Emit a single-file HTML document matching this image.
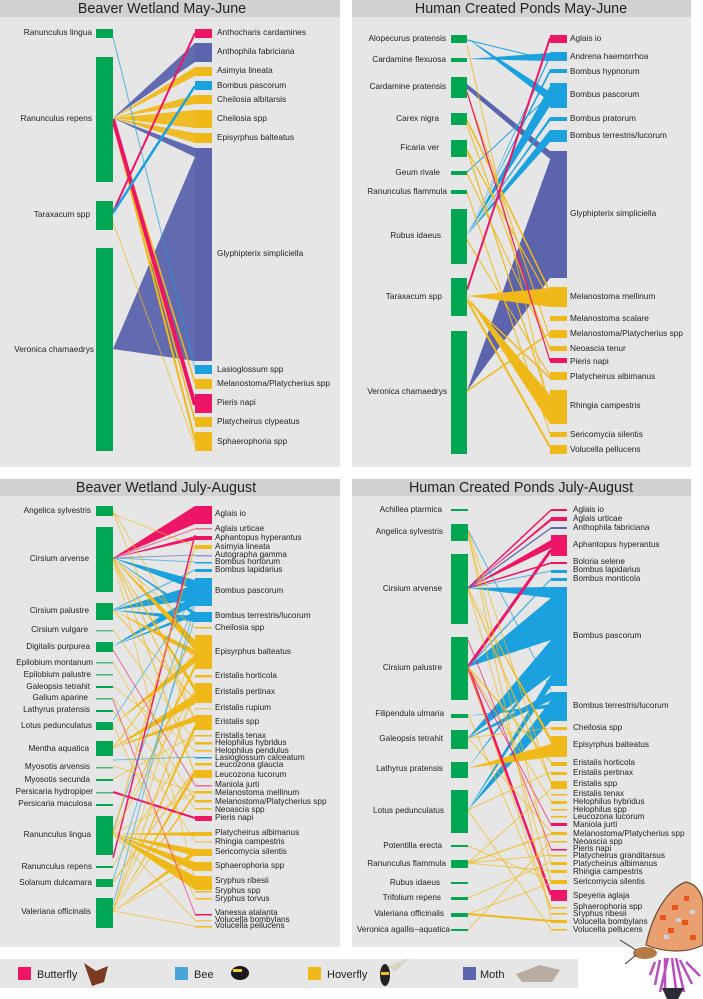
<!DOCTYPE html>
<html><head><meta charset="utf-8"><style>
html,body{margin:0;padding:0;background:#fff;}
svg{display:block;font-family:"Liberation Sans",Arial,sans-serif;}
.t{font-size:14.3px;fill:#222;text-anchor:middle;}
.p{font-size:8.3px;fill:#222;text-anchor:end;}
.i{font-size:8.3px;fill:#222;}
.s{font-size:8.2px;}
.g{fill:#00a651;}
.bf{fill:#ed1566;}.be{fill:#1ba1dd;}.hv{fill:#f0b91a;}.mo{fill:#5b64ad;}
.lb{stroke:#ed1566;}.le{stroke:#1ba1dd;}.lh{stroke:#f0b91a;}.lm{stroke:#5b64ad;}
</style></head><body>
<svg width="703" height="999" viewBox="0 0 703 999" xmlns="http://www.w3.org/2000/svg">
<rect x="0" y="0" width="340" height="467" fill="#e6e6e6"/>
<rect x="0" y="0" width="340" height="17" fill="#d1d1d3"/>
<rect x="352" y="0" width="339" height="467" fill="#e6e6e6"/>
<rect x="352" y="0" width="339" height="17" fill="#d1d1d3"/>
<rect x="0" y="479" width="340" height="468" fill="#e6e6e6"/>
<rect x="0" y="479" width="340" height="17" fill="#d1d1d3"/>
<rect x="352" y="479" width="339" height="468" fill="#e6e6e6"/>
<rect x="352" y="479" width="339" height="17" fill="#d1d1d3"/>
<text class="t" x="162" y="13">Beaver Wetland May-June</text>
<text class="t" x="521" y="13">Human Created Ponds May-June</text>
<text class="t" x="166" y="492">Beaver Wetland July-August</text>
<text class="t" x="521" y="492">Human Created Ponds July-August</text>

<g fill-opacity="0.95">
<polygon class="mo" points="113,118 195,43 195,62"/>
<polygon class="mo" points="113,118 195,148 195,157"/>
<polygon class="mo" points="113,349 195,157 195,361"/>
<polygon class="hv" points="113,118 195,67 195,76"/>
<polygon class="hv" points="113,118 195,95 195,104"/>
<polygon class="hv" points="113,118 195,110 195,128"/>
<polygon class="hv" points="113,118 195,133 195,143"/>
</g>
<g fill="none">
<line class="lh" x1="113" y1="120" x2="195" y2="383" stroke-width="1.5"/>
<line class="lh" x1="113" y1="120" x2="195" y2="421" stroke-width="1.5"/>
<line class="lh" x1="113" y1="121" x2="195" y2="440" stroke-width="2"/>
<line class="lh" x1="113" y1="222" x2="195" y2="446" stroke-width="1" stroke-opacity="0.7"/>
<line class="lb" x1="113" y1="119" x2="195" y2="405" stroke-width="4"/>
<line class="lb" x1="113" y1="212" x2="195" y2="33" stroke-width="2"/>
<line class="le" x1="113" y1="213" x2="195" y2="86" stroke-width="2.5"/>
<line class="le" x1="113" y1="37" x2="195" y2="369" stroke-width="1" stroke-opacity="0.7"/>
</g>
<rect class="g" x="96" y="29" width="17" height="9"/>
<rect class="g" x="96" y="57" width="17" height="125"/>
<rect class="g" x="96" y="201" width="17" height="29"/>
<rect class="g" x="96" y="248" width="17" height="203"/>
<rect class="bf" x="195" y="29" width="17" height="9"/>
<rect class="mo" x="195" y="43" width="17" height="19"/>
<rect class="hv" x="195" y="67" width="17" height="9"/>
<rect class="be" x="195" y="81" width="17" height="9"/>
<rect class="hv" x="195" y="95" width="17" height="9"/>
<rect class="hv" x="195" y="110" width="17" height="18"/>
<rect class="hv" x="195" y="133" width="17" height="10"/>
<rect class="mo" x="195" y="148" width="17" height="213"/>
<rect class="be" x="195" y="365" width="17" height="9"/>
<rect class="hv" x="195" y="379" width="17" height="10"/>
<rect class="bf" x="195" y="394" width="17" height="19"/>
<rect class="hv" x="195" y="417" width="17" height="10"/>
<rect class="hv" x="195" y="432" width="17" height="19"/>
<g class="p">
<text x="92" y="35">Ranunculus lingua</text>
<text x="92" y="121">Ranunculus repens</text>
<text x="90" y="217">Taraxacum spp</text>
<text x="94" y="352">Veronica chamaedrys</text>
</g>
<g class="i">
<text x="217" y="35">Anthocharis cardamines</text>
<text x="217" y="54">Anthophila fabriciana</text>
<text x="217" y="73">Asimyia lineata</text>
<text x="217" y="88">Bombus pascorum</text>
<text x="217" y="102">Cheilosia albitarsis</text>
<text x="217" y="121">Cheilosia spp</text>
<text x="217" y="140">Episyrphus balteatus</text>
<text x="217" y="256">Glyphipterix simpliciella</text>
<text x="217" y="372">Lasioglossum spp</text>
<text x="217" y="386">Melanostoma/Platycherius spp</text>
<text x="217" y="405">Pieris napi</text>
<text x="217" y="424">Platycheirus clypeatus</text>
<text x="217" y="444">Sphaerophoria spp</text>
</g>

<g>
<polygon class="mo" points="467,391 550,160 550,278"/>
<polygon class="mo" points="467,84 467,89 550,159 550,151"/>
<polygon class="be" points="467,38 550,92 550,102"/>
<polygon class="be" points="467,59 550,53 550,61"/>
<polygon class="be" points="467,235 550,55 550,58"/>
<polygon class="be" points="467,235 550,69 550,73"/>
<polygon class="be" points="467,235 550,86 550,106"/>
<polygon class="be" points="467,235 550,117 550,121"/>
<polygon class="be" points="467,235 550,130 550,142"/>
<polygon class="hv" points="467,296 550,288 550,307"/>
<polygon class="hv" points="467,296 550,395 550,424"/>
</g>
<g fill="none">
<line class="le" x1="467" y1="172" x2="550" y2="95" stroke-width="1"/>
<line class="le" x1="467" y1="40" x2="550" y2="60" stroke-width="1"/>
<line class="lh" x1="467" y1="391" x2="550" y2="333" stroke-width="1.5"/>
<line class="lh" x1="467" y1="120" x2="550" y2="292" stroke-width="1.5"/>
<line class="lh" x1="467" y1="150" x2="550" y2="300" stroke-width="1.2"/>
<line class="lh" x1="467" y1="150" x2="550" y2="405" stroke-width="1.2"/>
<line class="lh" x1="467" y1="92" x2="550" y2="338" stroke-width="1"/>
<line class="lh" x1="467" y1="173" x2="550" y2="348" stroke-width="1"/>
<line class="lh" x1="467" y1="45" x2="550" y2="412" stroke-width="0.8"/>
<line class="lh" x1="467" y1="240" x2="550" y2="376" stroke-width="1"/>
<line class="lh" x1="467" y1="300" x2="550" y2="378" stroke-width="1.5"/>
<line class="lh" x1="467" y1="300" x2="550" y2="447" stroke-width="2"/>
<line class="lh" x1="467" y1="192" x2="550" y2="434" stroke-width="1"/>
<line class="lh" x1="467" y1="125" x2="550" y2="350" stroke-width="1"/>
<line class="lb" x1="467" y1="290" x2="550" y2="38" stroke-width="2"/>
<line class="lb" x1="467" y1="92" x2="550" y2="361" stroke-width="1.2"/>
</g>
<rect class="g" x="451" y="35" width="16" height="8"/>
<rect class="g" x="451" y="58" width="16" height="4"/>
<rect class="g" x="451" y="77" width="16" height="21"/>
<rect class="g" x="451" y="113" width="16" height="12"/>
<rect class="g" x="451" y="140" width="16" height="17"/>
<rect class="g" x="451" y="171" width="16" height="4"/>
<rect class="g" x="451" y="190" width="16" height="4"/>
<rect class="g" x="451" y="209" width="16" height="55"/>
<rect class="g" x="451" y="278" width="16" height="38"/>
<rect class="g" x="451" y="331" width="16" height="123"/>
<rect class="bf" x="550" y="35" width="17" height="8"/>
<rect class="be" x="550" y="52" width="17" height="9"/>
<rect class="be" x="550" y="69" width="17" height="4"/>
<rect class="be" x="550" y="83" width="17" height="25"/>
<rect class="be" x="550" y="117" width="17" height="4"/>
<rect class="be" x="550" y="130" width="17" height="12"/>
<rect class="mo" x="550" y="151" width="17" height="127"/>
<rect class="hv" x="550" y="287" width="17" height="20"/>
<rect class="hv" x="550" y="316" width="17" height="5"/>
<rect class="hv" x="550" y="330" width="17" height="8"/>
<rect class="hv" x="550" y="346" width="17" height="5"/>
<rect class="bf" x="550" y="358" width="17" height="5"/>
<rect class="hv" x="550" y="372" width="17" height="8"/>
<rect class="hv" x="550" y="390" width="17" height="34"/>
<rect class="hv" x="550" y="432" width="17" height="5"/>
<rect class="hv" x="550" y="445" width="17" height="9"/>
<g class="p">
<text x="446" y="41">Alopecurus pratensis</text>
<text x="446" y="62">Cardamine flexuosa</text>
<text x="446" y="89">Cardamine pratensis</text>
<text x="439" y="121">Carex nigra</text>
<text x="439" y="150">Ficaria ver</text>
<text x="440" y="175">Geum rivale</text>
<text x="447" y="194">Ranunculus flammula</text>
<text x="441" y="238">Rubus idaeus</text>
<text x="442" y="299">Taraxacum spp</text>
<text x="447" y="394">Veronica chamaedrys</text>
</g>
<g class="i">
<text x="570" y="41">Aglais io</text>
<text x="570" y="59">Andrena haemorrhoa</text>
<text x="570" y="74">Bombus hypnorum</text>
<text x="570" y="97">Bombus pascorum</text>
<text x="570" y="121">Bombus pratorum</text>
<text x="570" y="138">Bombus terrestris/lucorum</text>
<text x="570" y="216">Glyphipterix simpliciella</text>
<text x="570" y="299">Melanostoma mellinum</text>
<text x="570" y="321">Melanostoma scalare</text>
<text x="570" y="336">Melanostoma/Platycherius spp</text>
<text x="570" y="351">Neoascia tenur</text>
<text x="570" y="364">Pieris napi</text>
<text x="570" y="379">Platycheirus albimanus</text>
<text x="570" y="408">Rhingia campestris</text>
<text x="570" y="437">Sericomycia silentis</text>
<text x="570" y="452">Volucella pellucens</text>
</g>

<g>
<polygon class="bf" points="113,558 195,506 195,524"/>
<polygon class="bf" points="113,558 195,536 195,540"/>
<polygon class="be" points="113,558 195,580 195,590"/>
<polygon class="be" points="113,558 195,612 195,616"/>
<polygon class="be" points="113,610 195,585 195,600"/>
<polygon class="be" points="113,610 195,616 195,622"/>
<polygon class="be" points="113,646 195,595 195,605"/>
<polygon class="be" points="113,646 195,612 195,616"/>
<polygon class="hv" points="113,558 195,640 195,650"/>
<polygon class="hv" points="113,558 195,686 195,692"/>
<polygon class="hv" points="113,610 195,650 195,656"/>
<polygon class="hv" points="113,725 195,655 195,663"/>
<polygon class="hv" points="113,748 195,694 195,704"/>
<polygon class="hv" points="113,748 195,716 195,722"/>
<polygon class="hv" points="113,834 195,664 195,669"/>
<polygon class="hv" points="113,834 195,862 195,871"/>
<polygon class="hv" points="113,834 195,876 195,890"/>
<polygon class="hv" points="113,834 195,832 195,836"/>
<polygon class="hv" points="113,834 195,849 195,856"/>
<polygon class="hv" points="113,911 195,724 195,730"/>
<polygon class="hv" points="113,911 195,770 195,776"/>
<polygon class="hv" points="113,911 195,850 195,855"/>
<polygon class="hv" points="113,911 195,793 195,796"/>
</g>
<g fill="none" stroke-width="1" stroke-opacity="0.6">
<line class="lb" x1="113" y1="558" x2="195" y2="529"/>
<line class="lb" x1="113" y1="792" x2="195" y2="818" stroke-width="2" stroke-opacity="1"/>
<line class="lb" x1="113" y1="650" x2="195" y2="785"/>
<line class="lb" x1="113" y1="700" x2="195" y2="914"/>
<line class="lb" x1="113" y1="858" x2="195" y2="535" stroke-width="1.5" stroke-opacity="1"/>
<line class="le" x1="113" y1="558" x2="195" y2="562"/>
<line class="le" x1="113" y1="610" x2="195" y2="570" stroke-width="1.5"/>
<line class="le" x1="113" y1="720" x2="195" y2="595"/>
<line class="le" x1="113" y1="760" x2="195" y2="757"/>
<line class="le" x1="113" y1="830" x2="195" y2="600"/>
<line class="le" x1="113" y1="880" x2="195" y2="618"/>
<line class="le" x1="113" y1="905" x2="195" y2="605"/>
<line class="lh" x1="113" y1="510" x2="195" y2="650"/>
<line class="lh" x1="113" y1="512" x2="195" y2="720"/>
<line class="lh" x1="113" y1="514" x2="195" y2="546"/>
<line class="lh" x1="113" y1="558" x2="195" y2="720" stroke-width="1.5"/>
<line class="lh" x1="113" y1="558" x2="195" y2="774" stroke-width="1.5"/>
<line class="lh" x1="113" y1="558" x2="195" y2="880"/>
<line class="lh" x1="113" y1="558" x2="195" y2="628"/>
<line class="lh" x1="113" y1="610" x2="195" y2="700" stroke-width="1.5"/>
<line class="lh" x1="113" y1="630" x2="195" y2="742"/>
<line class="lh" x1="113" y1="662" x2="195" y2="801"/>
<line class="lh" x1="113" y1="686" x2="195" y2="750"/>
<line class="lh" x1="113" y1="698" x2="195" y2="809"/>
<line class="lh" x1="113" y1="710" x2="195" y2="841"/>
<line class="lh" x1="113" y1="725" x2="195" y2="898"/>
<line class="lh" x1="113" y1="748" x2="195" y2="640" stroke-width="1.5"/>
<line class="lh" x1="113" y1="766" x2="195" y2="792"/>
<line class="lh" x1="113" y1="779" x2="195" y2="735"/>
<line class="lh" x1="113" y1="834" x2="195" y2="546" stroke-width="1.5"/>
<line class="lh" x1="113" y1="834" x2="195" y2="690"/>
<line class="lh" x1="113" y1="834" x2="195" y2="792"/>
<line class="lh" x1="113" y1="834" x2="195" y2="920"/>
<line class="lh" x1="113" y1="866" x2="195" y2="735"/>
<line class="lh" x1="113" y1="882" x2="195" y2="770" stroke-width="1.5"/>
<line class="lh" x1="113" y1="911" x2="195" y2="690" stroke-width="1.5"/>
<line class="lh" x1="113" y1="911" x2="195" y2="865"/>
<line class="lh" x1="113" y1="911" x2="195" y2="926"/>
<line class="lh" x1="113" y1="911" x2="195" y2="640"/>
<line class="lm" x1="113" y1="558" x2="195" y2="555"/>
</g>
<g class="g">
<rect x="96" y="506" width="17" height="10"/>
<rect x="96" y="527" width="17" height="65"/>
<rect x="96" y="603" width="17" height="17"/>
<rect x="96" y="630" width="17" height="1.5" opacity="0.6"/>
<rect x="96" y="642" width="17" height="10"/>
<rect x="96" y="662" width="17" height="1.5" opacity="0.7"/>
<rect x="96" y="674" width="17" height="1.5" opacity="0.7"/>
<rect x="96" y="686" width="17" height="2"/>
<rect x="96" y="698" width="17" height="1.5" opacity="0.7"/>
<rect x="96" y="710" width="17" height="2"/>
<rect x="96" y="722" width="17" height="8"/>
<rect x="96" y="741" width="17" height="15"/>
<rect x="96" y="767" width="17" height="1.5" opacity="0.7"/>
<rect x="96" y="779" width="17" height="2"/>
<rect x="96" y="792" width="17" height="1.5" opacity="0.7"/>
<rect x="96" y="804" width="17" height="2"/>
<rect x="96" y="816" width="17" height="39"/>
<rect x="96" y="866" width="17" height="2"/>
<rect x="96" y="879" width="17" height="8"/>
<rect x="96" y="898" width="17" height="30"/>
</g>
<rect class="bf" x="195" y="506" width="17" height="18"/>
<rect class="bf" x="195" y="528" width="17" height="1.5" opacity="0.6"/>
<rect class="bf" x="195" y="536" width="17" height="4"/>
<rect class="hv" x="195" y="545" width="17" height="4"/>
<rect class="mo" x="195" y="555" width="17" height="1.5" opacity="0.6"/>
<rect class="be" x="195" y="562" width="17" height="1.5"/>
<rect class="be" x="195" y="569" width="17" height="3"/>
<rect class="be" x="195" y="578" width="17" height="28"/>
<rect class="be" x="195" y="612" width="17" height="10"/>
<rect class="hv" x="195" y="627" width="17" height="1.5"/>
<rect class="hv" x="195" y="635" width="17" height="34"/>
<rect class="hv" x="195" y="675" width="17" height="2.5"/>
<rect class="hv" x="195" y="683" width="17" height="20"/>
<rect class="hv" x="195" y="708" width="17" height="1.5" opacity="0.6"/>
<rect class="hv" x="195" y="715" width="17" height="15"/>
<rect class="hv" x="195" y="735" width="17" height="1.5"/>
<rect class="hv" x="195" y="742" width="17" height="2.5"/>
<rect class="hv" x="195" y="750" width="17" height="1.5"/>
<rect class="be" x="195" y="757" width="17" height="1.5"/>
<rect class="hv" x="195" y="763" width="17" height="2.5"/>
<rect class="hv" x="195" y="770" width="17" height="8"/>
<rect class="bf" x="195" y="785" width="17" height="1.5" opacity="0.6"/>
<rect class="hv" x="195" y="791" width="17" height="2.5"/>
<rect class="hv" x="195" y="800" width="17" height="2.5"/>
<rect class="hv" x="195" y="808" width="17" height="1.5"/>
<rect class="bf" x="195" y="816" width="17" height="5"/>
<rect class="hv" x="195" y="832" width="17" height="4"/>
<rect class="hv" x="195" y="841" width="17" height="1.5" opacity="0.6"/>
<rect class="hv" x="195" y="849" width="17" height="7"/>
<rect class="hv" x="195" y="862" width="17" height="9"/>
<rect class="hv" x="195" y="876" width="17" height="14"/>
<rect class="hv" x="195" y="891" width="17" height="1.5"/>
<rect class="hv" x="195" y="898" width="17" height="1.5"/>
<rect class="bf" x="195" y="914" width="17" height="1.5"/>
<rect class="hv" x="195" y="920" width="17" height="1.5" opacity="0.6"/>
<rect class="hv" x="195" y="926" width="17" height="1.5"/>
<g class="p s">
<text x="91" y="513">Angelica sylvestris</text>
<text x="89" y="561">Cirsium arvense</text>
<text x="89" y="613">Cirsium palustre</text>
<text x="88" y="632">Cirsium vulgare</text>
<text x="90" y="649">Digitalis purpurea</text>
<text x="93" y="665">Epilobium montanum</text>
<text x="91" y="677">Epilobium palustre</text>
<text x="90" y="689">Galeopsis tetrahit</text>
<text x="88" y="700">Galium aparine</text>
<text x="90" y="712">Lathyrus pratensis</text>
<text x="92" y="728">Lotus pedunculatus</text>
<text x="89" y="751">Mentha aquatica</text>
<text x="90" y="769">Myosotis arvensis</text>
<text x="90" y="782">Myosotis secunda</text>
<text x="93" y="794">Persicaria hydropiper</text>
<text x="92" y="806">Persicaria maculosa</text>
<text x="91" y="837">Ranunculus lingua</text>
<text x="92" y="869">Ranunculus repens</text>
<text x="92" y="885">Solanum dulcamara</text>
<text x="91" y="914">Valeriana officinalis</text>
</g>
<g class="i s">
<text x="215" y="516">Aglais io</text>
<text x="215" y="531">Aglais urticae</text>
<text x="215" y="540">Aphantopus hyperantus</text>
<text x="215" y="549">Asimyia lineata</text>
<text x="215" y="557">Autographa gamma</text>
<text x="215" y="564">Bombus hortorum</text>
<text x="215" y="572">Bombus lapidarius</text>
<text x="215" y="593">Bombus pascorum</text>
<text x="215" y="618">Bombus terrestris/lucorum</text>
<text x="215" y="630">Cheilosia spp</text>
<text x="215" y="654">Episyrphus balteatus</text>
<text x="215" y="678">Eristalis horticola</text>
<text x="215" y="694">Eristalis pertinax</text>
<text x="215" y="710">Eristalis rupium</text>
<text x="215" y="724">Eristalis spp</text>
<text x="215" y="738">Eristalis tenax</text>
<text x="215" y="745">Helophilus hybridus</text>
<text x="215" y="753">Helophilus pendulus</text>
<text x="215" y="760">Lasioglossum calceatum</text>
<text x="215" y="767">Leucozona glaucia</text>
<text x="215" y="777">Leucozona lucorum</text>
<text x="215" y="787">Maniola jurti</text>
<text x="215" y="795">Melanostoma mellinum</text>
<text x="215" y="804">Melanostoma/Platycherius spp</text>
<text x="215" y="812">Neoascia spp</text>
<text x="215" y="820">Pieris napi</text>
<text x="215" y="835">Platycheirus albimanus</text>
<text x="215" y="844">Rhingia campestris</text>
<text x="215" y="854">Sericomycia silentis</text>
<text x="215" y="868">Sphaerophoria spp</text>
<text x="215" y="883">Sryphus ribesii</text>
<text x="215" y="893">Sryphus spp</text>
<text x="215" y="901">Sryphus torvus</text>
<text x="215" y="915">Vanessa atalanta</text>
<text x="215" y="922">Volucella bombylans</text>
<text x="215" y="928">Volucella pellucens</text>
</g>

<g>
<polygon class="be" points="468,588 551,587 551,598"/>
<polygon class="be" points="468,667 551,598 551,640"/>
<polygon class="be" points="468,738 551,640 551,675"/>
<polygon class="be" points="468,738 551,692 551,700"/>
<polygon class="be" points="468,810 551,675 551,686"/>
<polygon class="be" points="468,810 551,700 551,721"/>
<polygon class="be" points="468,768 551,655 551,662"/>
<polygon class="be" points="468,716 551,704 551,708"/>
<polygon class="bf" points="468,588 551,540 551,548"/>
<polygon class="bf" points="468,588 551,518 551,521"/>
<polygon class="hv" points="468,768 551,744 551,757"/>
<polygon class="hv" points="468,588 551,738 551,743"/>
</g>
<g fill="none" stroke-width="1" stroke-opacity="0.7">
<line class="lb" x1="468" y1="588" x2="551" y2="510" stroke-width="1.5" stroke-opacity="1"/>
<line class="lb" x1="468" y1="588" x2="551" y2="563" stroke-width="1.5" stroke-opacity="1"/>
<line class="lb" x1="468" y1="667" x2="551" y2="550" stroke-width="3" stroke-opacity="1"/>
<line class="lb" x1="468" y1="667" x2="551" y2="895" stroke-width="2.5" stroke-opacity="1"/>
<line class="lb" x1="468" y1="667" x2="551" y2="825"/>
<line class="lb" x1="468" y1="640" x2="551" y2="849"/>
<line class="lm" x1="468" y1="588" x2="551" y2="528" stroke-width="1.2" stroke-opacity="1"/>
<line class="le" x1="468" y1="530" x2="551" y2="690"/>
<line class="le" x1="468" y1="588" x2="551" y2="571"/>
<line class="le" x1="468" y1="667" x2="551" y2="579" stroke-width="1.5"/>
<line class="le" x1="468" y1="738" x2="551" y2="700"/>
<line class="lh" x1="468" y1="530" x2="551" y2="783"/>
<line class="lh" x1="468" y1="532" x2="551" y2="863"/>
<line class="lh" x1="468" y1="534" x2="551" y2="920"/>
<line class="lh" x1="468" y1="588" x2="551" y2="783" stroke-width="1.5"/>
<line class="lh" x1="468" y1="588" x2="551" y2="881"/>
<line class="lh" x1="468" y1="667" x2="551" y2="762" stroke-width="1.5"/>
<line class="lh" x1="468" y1="667" x2="551" y2="801"/>
<line class="lh" x1="468" y1="667" x2="551" y2="910"/>
<line class="lh" x1="468" y1="738" x2="551" y2="728"/>
<line class="lh" x1="468" y1="738" x2="551" y2="832"/>
<line class="lh" x1="468" y1="810" x2="551" y2="772"/>
<line class="lh" x1="468" y1="810" x2="551" y2="929"/>
<line class="lh" x1="468" y1="863" x2="551" y2="834" stroke-width="1.5"/>
<line class="lh" x1="468" y1="863" x2="551" y2="855"/>
<line class="lh" x1="468" y1="863" x2="551" y2="871"/>
<line class="lh" x1="468" y1="863" x2="551" y2="789"/>
<line class="lh" x1="468" y1="846" x2="551" y2="881"/>
<line class="lh" x1="468" y1="898" x2="551" y2="862"/>
<line class="lh" x1="468" y1="914" x2="551" y2="921" stroke-width="2" stroke-opacity="1"/>
<line class="lh" x1="468" y1="914" x2="551" y2="883"/>
<line class="lh" x1="468" y1="930" x2="551" y2="841"/>
<line class="lh" x1="468" y1="714" x2="551" y2="907"/>
</g>
<g class="g">
<rect x="451" y="509" width="17" height="2"/>
<rect x="451" y="524" width="17" height="17"/>
<rect x="451" y="554" width="17" height="70"/>
<rect x="451" y="637" width="17" height="63"/>
<rect x="451" y="714" width="17" height="4"/>
<rect x="451" y="730" width="17" height="19"/>
<rect x="451" y="762" width="17" height="16"/>
<rect x="451" y="790" width="17" height="43"/>
<rect x="451" y="845" width="17" height="2"/>
<rect x="451" y="860" width="17" height="8"/>
<rect x="451" y="882" width="17" height="2"/>
<rect x="451" y="897" width="17" height="3"/>
<rect x="451" y="913" width="17" height="4"/>
<rect x="451" y="929" width="17" height="2"/>
</g>
<rect class="bf" x="551" y="509" width="16" height="2"/>
<rect class="bf" x="551" y="517" width="16" height="4"/>
<rect class="mo" x="551" y="527" width="16" height="2"/>
<rect class="bf" x="551" y="535" width="16" height="21"/>
<rect class="bf" x="551" y="562" width="16" height="2"/>
<rect class="be" x="551" y="570" width="16" height="3"/>
<rect class="be" x="551" y="578" width="16" height="3"/>
<rect class="be" x="551" y="587" width="16" height="99"/>
<rect class="be" x="551" y="692" width="16" height="29"/>
<rect class="hv" x="551" y="727" width="16" height="3"/>
<rect class="hv" x="551" y="736" width="16" height="21"/>
<rect class="hv" x="551" y="762" width="16" height="4"/>
<rect class="hv" x="551" y="772" width="16" height="3"/>
<rect class="hv" x="551" y="781" width="16" height="8"/>
<rect class="hv" x="551" y="794" width="16" height="1.5"/>
<rect class="hv" x="551" y="801" width="16" height="3"/>
<rect class="hv" x="551" y="809" width="16" height="1.5"/>
<rect class="hv" x="551" y="816" width="16" height="1.5"/>
<rect class="bf" x="551" y="823" width="16" height="3"/>
<rect class="hv" x="551" y="832" width="16" height="3"/>
<rect class="hv" x="551" y="841" width="16" height="1.5"/>
<rect class="bf" x="551" y="849" width="16" height="1.5"/>
<rect class="hv" x="551" y="855" width="16" height="1.5"/>
<rect class="hv" x="551" y="862" width="16" height="3"/>
<rect class="hv" x="551" y="870" width="16" height="3"/>
<rect class="hv" x="551" y="880" width="16" height="4"/>
<rect class="bf" x="551" y="890" width="16" height="11"/>
<rect class="hv" x="551" y="907" width="16" height="1.5"/>
<rect class="hv" x="551" y="913" width="16" height="1.5"/>
<rect class="hv" x="551" y="920" width="16" height="3"/>
<rect class="hv" x="551" y="929" width="16" height="1.5"/>
<g class="p s">
<text x="442" y="512">Achillea ptarmica</text>
<text x="443" y="534">Angelica sylvestris</text>
<text x="442" y="591">Cirsium arvense</text>
<text x="442" y="670">Cirsium palustre</text>
<text x="444" y="716">Filipendula ulmaria</text>
<text x="443" y="741">Galeopsis tetrahit</text>
<text x="443" y="771">Lathyrus pratensis</text>
<text x="444" y="813">Lotus pedunculatus</text>
<text x="442" y="848">Potentilla erecta</text>
<text x="446" y="866">Ranunculus flammula</text>
<text x="440" y="885">Rubus idaeus</text>
<text x="441" y="900">Trifolium repens</text>
<text x="444" y="916">Valeriana officinalis</text>
<text x="450" y="932">Veronica agallis−aquatica</text>
</g>
<g class="i s">
<text x="573" y="512">Aglais io</text>
<text x="573" y="521">Aglais urticae</text>
<text x="573" y="530">Anthophila fabriciana</text>
<text x="573" y="547">Aphantopus hyperantus</text>
<text x="573" y="564">Boloria selene</text>
<text x="573" y="572">Bombus lapidarius</text>
<text x="573" y="581">Bombus monticola</text>
<text x="573" y="638">Bombus pascorum</text>
<text x="573" y="708">Bombus terrestris/lucorum</text>
<text x="573" y="730">Cheilosia spp</text>
<text x="573" y="747">Episyrphus balteatus</text>
<text x="573" y="765">Eristalis horticola</text>
<text x="573" y="775">Eristalis pertinax</text>
<text x="573" y="786">Eristalis spp</text>
<text x="573" y="796">Eristalis tenax</text>
<text x="573" y="804">Helophilus hybridus</text>
<text x="573" y="812">Helophilus spp</text>
<text x="573" y="819">Leucozona lucorum</text>
<text x="573" y="827">Maniola jurti</text>
<text x="573" y="836">Melanostoma/Platycherius spp</text>
<text x="573" y="844">Neoascia spp</text>
<text x="573" y="851">Pieris napi</text>
<text x="573" y="858">Platycheirus granditarsus</text>
<text x="573" y="866">Platycheirus albimanus</text>
<text x="573" y="874">Rhingia campestris</text>
<text x="573" y="884">Sericomycia silentis</text>
<text x="573" y="898">Speyeria aglaja</text>
<text x="573" y="909">Sphaerophoria spp</text>
<text x="573" y="916">Sryphus ribesii</text>
<text x="573" y="924">Volucella bombylans</text>
<text x="573" y="932">Volucella pellucens</text>
</g>

<g>
<path d="M646,945 C652,915 668,888 686,882 C697,884 703,895 703,905 L703,945 C690,952 668,954 646,945 Z" fill="#e8a070" stroke="#6b4a30" stroke-width="1.2"/>
<g fill="#e8541e">
<rect x="660" y="915" width="6" height="5"/><rect x="672" y="905" width="6" height="5"/><rect x="684" y="896" width="5" height="5"/>
<rect x="668" y="928" width="6" height="5"/><rect x="682" y="920" width="6" height="5"/><rect x="690" y="935" width="6" height="5"/>
</g>
<g fill="#cfd3de"><rect x="676" y="918" width="5" height="4"/><rect x="664" y="935" width="5" height="4"/><rect x="690" y="910" width="5" height="4"/></g>
<ellipse cx="645" cy="953" rx="12" ry="6" fill="#b47a45"/>
<line x1="636" y1="950" x2="620" y2="940" stroke="#333" stroke-width="1"/>
<line x1="636" y1="955" x2="625" y2="964" stroke="#333" stroke-width="1"/>
<path d="M655,962 L650,975 M660,960 L655,985 M665,958 L665,990 M672,958 L676,990 M680,960 L692,984 M686,962 L700,976 M668,958 L660,992 M676,958 L684,992" stroke="#b84ec0" stroke-width="2.5" fill="none"/>
<path d="M662,988 L684,988 L678,999 L667,999 Z" fill="#2e2a35"/>
</g>

<rect x="0" y="959" width="578" height="29" fill="#e6e6e6"/>
<rect x="18" y="967" width="13" height="13" class="bf"/>
<text x="37" y="978" font-size="11" fill="#222">Butterfly</text>
<path d="M84,963 L96,971 L108,966 L104,982 L92,986 Z" fill="#7a3a20"/>
<rect x="175" y="967" width="13" height="13" fill="#4aa3d6"/>
<text x="194" y="978" font-size="11" fill="#222">Bee</text>
<ellipse cx="240" cy="973" rx="9" ry="7" fill="#1a1a1a"/><rect x="233" y="969" width="9" height="3" fill="#f0d020"/>
<rect x="308" y="967" width="13" height="13" class="hv"/>
<text x="327" y="978" font-size="11" fill="#222">Hoverfly</text>
<ellipse cx="385" cy="975" rx="5" ry="11" fill="#222"/><rect x="381" y="972" width="8" height="3" fill="#f0c020"/>
<path d="M388,966 L410,958 L395,972 Z" fill="#d8d4c4"/>
<rect x="463" y="967" width="13" height="13" class="mo"/>
<text x="480" y="978" font-size="11" fill="#222">Moth</text>
<path d="M516,974 L540,965 L560,970 L552,982 L522,982 Z" fill="#b8ada0"/>
</svg>
</body></html>
